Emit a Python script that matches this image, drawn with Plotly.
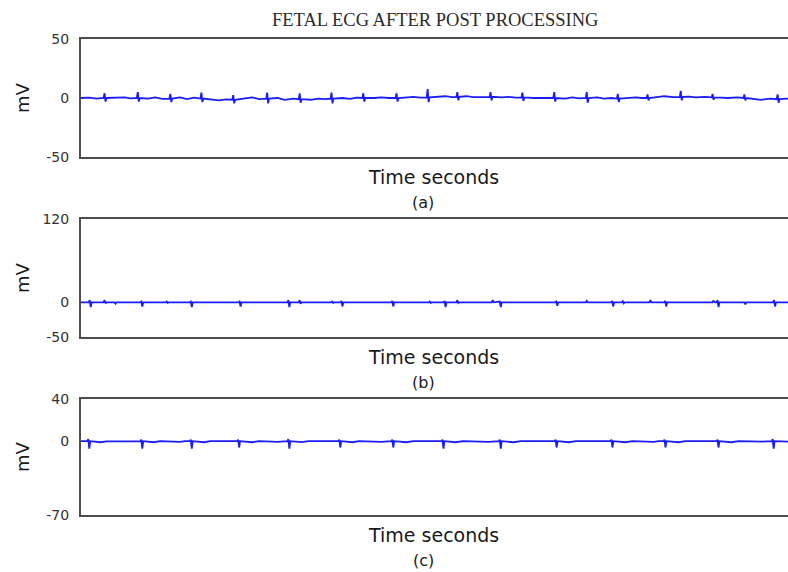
import plotly.graph_objects as go

# ---------------------------------------------------------------------------
# Panel (a): beat times (s), R peak height and S trough depth (mV), local baseline (mV)
a_beat_t = [0.34, 0.81, 1.27, 1.71, 2.16, 2.64, 3.10, 3.55, 4.00, 4.47, 4.91,
            5.33, 5.80, 6.25, 6.70, 7.16, 7.60, 8.02, 8.49, 8.94, 9.39, 9.86]
a_r_mv = [4, 5, 4, 5, 4, 5, 5, 5, 4, 4, 7, 4, 4, 4, 5, 5, 4, 3, 5, 3, 3, 4]
a_s_mv = [3, 3, 3, 3, 3, 4, 3, 4, 3, 3, 4, 3, 3, 3, 3, 4, 3, 2, 3, 2, 2, 3]
a_base_mv = [0, 0, -0.5, -0.5, -1.5, -0.5, -1, -0.5, 0, 0, 0.5,
             1, 1, 0.5, 0, 0, -0.5, 0, 1, 0.5, 0, -1]
# residual noise between beats
a_noise_t = [0.00, 0.12, 0.22, 0.50, 0.62, 0.70, 0.95, 1.05, 1.15, 1.40, 1.50, 1.60,
             1.85, 1.95, 2.05, 2.30, 2.42, 2.52, 2.78, 2.88, 3.00, 3.25, 3.35, 3.45,
             3.70, 3.80, 3.90, 4.15, 4.25, 4.35, 4.60, 4.70, 4.80, 5.05, 5.15, 5.25,
             5.45, 5.55, 5.68, 5.95, 6.05, 6.15, 6.40, 6.50, 6.60, 6.85, 6.95, 7.05,
             7.30, 7.40, 7.50, 7.75, 7.85, 7.92, 8.15, 8.25, 8.38, 8.60, 8.70, 8.82,
             9.05, 9.15, 9.28, 9.50, 9.62, 9.75, 9.95, 10.0]
a_noise_mv = [0.0, 0.3, -0.5, 0.0, 0.5, -0.3, -0.5, 0.5, -0.8, 0.5, -1.0, 0.3,
              -1.5, -2.0, -1.2, -0.5, 0.5, -1.0, 0.0, -1.5, -0.5, -1.5, -0.5, -1.0,
              0.0, -0.8, 0.3, 0.0, 0.5, 0.0, 0.5, 1.0, 0.3, 1.0, 1.5, 0.8,
              1.5, 0.8, 1.2, 0.5, 1.0, 0.3, 0.0, 0.0, 0.3, -0.5, 0.5, -0.3,
              0.5, -0.5, 0.0, 0.0, 0.5, 0.0, 0.8, 1.5, 0.8, 1.2, 0.5, 1.0,
              0.3, 0.0, 0.5, -0.5, -1.5, -0.5, -1.0, -0.5]

# ---------------------------------------------------------------------------
# Panel (b): complexes and small residual ticks
b_beat_t = [0.13, 0.34, 0.48, 0.86, 1.22, 1.56, 2.25, 2.94, 3.10, 3.56, 3.69, 4.41,
            4.94, 5.15, 5.33, 5.83, 5.93, 6.73, 7.16, 7.52, 7.67, 8.06, 8.27, 8.95,
            9.01, 9.39, 9.81]
b_r_mv = [3, 3, 0, 1, 1, 1, 1, 3, 3, 1, 2, 2, 1, 2, 3, 3, 1, 1, 2, 2, 1.5, 3, 2, 2,
          3, 0, 3]
b_s_mv = [7, 1.5, 2, 6, 1, 7, 6, 7, 2, 1, 6, 6, 1, 7, 1, 0, 7, 5, 0, 6, 1.5, 0, 6, 0,
          7, 3, 6]
b_noise_t = [0.0, 10.0]
b_noise_mv = [0.0, 0.0]

# ---------------------------------------------------------------------------
# Panel (c): complexes, followed by small T-wave dips
c_beat_t = [0.11, 0.86, 1.56, 2.23, 2.94, 3.66, 4.41, 5.12, 5.93, 6.72, 7.51, 8.26,
            9.01, 9.79]
c_r_mv = [2, 1.5, 1.5, 1.5, 2, 1.5, 1.5, 1.5, 1.5, 1.5, 1.5, 1.5, 1.5, 2]
c_s_mv = [7, 7, 7, 6, 7, 6, 6, 7, 7, 6, 6, 6, 6, 7]
c_noise_t = [0.00, 0.28, 0.36, 0.70, 0.76, 1.03, 1.12, 1.40, 1.47, 1.74, 1.83, 2.08,
             2.14, 2.42, 2.52, 2.78, 2.85, 3.12, 3.22, 3.50, 3.57, 3.84, 3.93, 4.25,
             4.32, 4.60, 4.70, 4.96, 5.03, 5.30, 5.40, 5.77, 5.84, 6.12, 6.22, 6.56,
             6.63, 6.90, 7.00, 7.35, 7.42, 7.70, 7.80, 8.10, 8.17, 8.45, 8.55, 8.85,
             8.92, 9.20, 9.30, 9.63, 9.70, 9.97, 10.0]
c_noise_mv = [0.0, -1.0, -0.2, -0.5, 0.0, -1.0, 0.0, -0.6, 0.0, -1.0, 0.0, -0.5,
              0.0, -1.0, 0.0, -0.6, 0.0, -0.8, 0.0, -0.5, 0.0, -1.0, 0.0, -0.6,
              0.0, -1.0, 0.0, -0.5, 0.0, -1.0, 0.0, -0.6, 0.0, -1.0, 0.0, -0.5,
              0.0, -1.0, 0.0, -0.5, 0.0, -1.0, 0.0, -0.6, 0.0, -1.0, 0.0, -0.5,
              0.0, -1.0, 0.0, -0.5, 0.0, -0.8, -0.5]

y_ranges = [(-50, 50), (-50, 120), (-70, 40)]
y_ticks = [[-50, 0, 50], [-50, 0, 120], [-70, 0, 40]]
y_ticktext = [["-50", "0", "50"], ["-50", "0", "120"], ["-70", "0", "40"]]
panel_tags = ["(a)", "(b)", "(c)"]

W, H = 788, 572
# vertical extent of each axes box, pixels from top
boxes_px = [(39, 157), (219, 337), (399, 515)]
x_left_px = 81

LINE_BLUE = "rgb(28,28,250)"
AXIS_GREY = "#4d4d4d"
QRS_HALF = 0.02   # half width of a complex (s)
QRS_EDGE = 0.007  # offset of R/S extremes from beat centre (s)


def trace_points(beat_t, r_mv, s_mv, noise_t, noise_mv, base_mv=None):
    """Merge the noise samples with the R/S extremes of each complex."""
    if base_mv is None:
        base_mv = [0.0] * len(beat_t)
    pts = list(zip(noise_t, noise_mv))
    for t, r, s, b in zip(beat_t, r_mv, s_mv, base_mv):
        pts += [(t - QRS_HALF, b), (t - QRS_EDGE, b + r),
                (t + QRS_EDGE, b - s), (t + QRS_HALF, b)]
    pts.sort(key=lambda p: p[0])
    return [p[0] for p in pts], [p[1] for p in pts]


series = [
    trace_points(a_beat_t, a_r_mv, a_s_mv, a_noise_t, a_noise_mv, a_base_mv),
    trace_points(b_beat_t, b_r_mv, b_s_mv, b_noise_t, b_noise_mv),
    trace_points(c_beat_t, c_r_mv, c_s_mv, c_noise_t, c_noise_mv),
]

fig = go.Figure()
layout = dict(
    width=W, height=H,
    margin=dict(l=0, r=0, t=0, b=0, pad=0, autoexpand=False),
    paper_bgcolor="white", plot_bgcolor="white",
    showlegend=False,
)

annotations = [dict(
    text="FETAL ECG AFTER POST PROCESSING", x=435 / W, y=1 - 20 / H,
    xref="paper", yref="paper", showarrow=False, xanchor="center", yanchor="middle",
    font=dict(family="Liberation Serif", size=18.5, color="#2a2a2a"),
)]

for i, ((t, mv), (top, bot)) in enumerate(zip(series, boxes_px)):
    n = "" if i == 0 else str(i + 1)
    fig.add_trace(go.Scatter(
        x=t, y=mv, mode="lines", xaxis="x" + n, yaxis="y" + n,
        line=dict(color=LINE_BLUE, width=1.8), hoverinfo="skip",
    ))
    dom = [1 - bot / H, 1 - top / H]
    layout["xaxis" + n] = dict(
        domain=[x_left_px / W, 1.0], range=[0, 10], anchor="y" + n,
        showline=True, mirror=True, linecolor=AXIS_GREY, linewidth=2,
        showticklabels=False, ticks="", showgrid=False, zeroline=False,
        automargin=False,
    )
    layout["yaxis" + n] = dict(
        domain=dom, range=list(y_ranges[i]), anchor="x" + n,
        showline=True, linecolor=AXIS_GREY, linewidth=2,
        tickvals=y_ticks[i], ticktext=y_ticktext[i], ticks="", ticklabelstandoff=7,
        tickfont=dict(family="DejaVu Sans", size=14, color="#333333"),
        showgrid=False, zeroline=False, automargin=False,
    )
    mid = (top + bot) / 2
    annotations.append(dict(
        text="mV", x=22 / W, y=1 - mid / H, xref="paper", yref="paper",
        textangle=-90, showarrow=False, xanchor="center", yanchor="middle",
        font=dict(family="DejaVu Sans", size=18, color="#1a1a1a"),
    ))
    annotations.append(dict(
        text="Time seconds", x=433.5 / W, y=1 - (bot + 20) / H,
        xref="paper", yref="paper", showarrow=False,
        xanchor="center", yanchor="middle",
        font=dict(family="DejaVu Sans", size=19, color="#1a1a1a"),
    ))
    annotations.append(dict(
        text=panel_tags[i], x=423 / W, y=1 - (bot + 45) / H,
        xref="paper", yref="paper", showarrow=False,
        xanchor="center", yanchor="middle",
        font=dict(family="DejaVu Sans", size=16, color="#1a1a1a"),
    ))

layout["annotations"] = annotations
fig.update_layout(**layout)
fig.write_html("out.html")
